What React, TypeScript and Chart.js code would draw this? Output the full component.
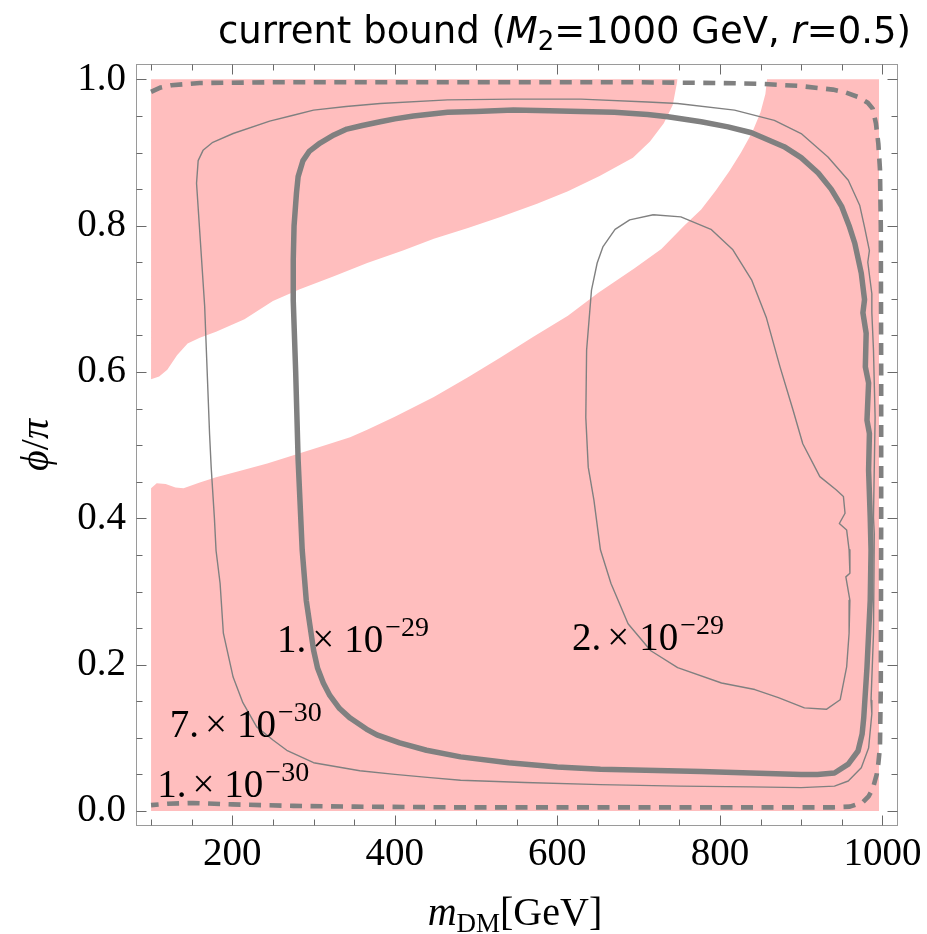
import React, { useEffect, useRef } from "react";
import { Chart, registerables } from "chart.js";

Chart.register(...registerables);

// ---------- axes ----------
const xTickValues = [100, 150, 200, 250, 300, 350, 400, 450, 500, 550, 600, 650, 700, 750, 800, 850, 900, 950, 1000];
const xTickLabels = ["", "", "200", "", "", "", "400", "", "", "", "600", "", "", "", "800", "", "", "", "1000"];
const yTickValues = [0, 0.05, 0.1, 0.15, 0.2, 0.25, 0.3, 0.35, 0.4, 0.45, 0.5, 0.55, 0.6, 0.65, 0.7, 0.75, 0.8, 0.85, 0.9, 0.95, 1.0];
const yTickLabels = ["0.0", "", "", "", "0.2", "", "", "", "0.4", "", "", "", "0.6", "", "", "", "0.8", "", "", "", "1.0"];
const xRange = [81.5, 1019];
const yRange = [-0.0205, 1.021];

// ---------- allowed region (pink) boundaries ----------
// lower edge of the upper-left pink region
const bandUpperX = [100, 110, 120, 132, 145, 160, 180, 215, 250, 283, 325, 366, 410, 448, 490, 530, 575, 613, 652, 693, 714, 731, 742, 748];
const bandUpperY = [0.590, 0.594, 0.603, 0.623, 0.639, 0.647, 0.655, 0.672, 0.697, 0.713, 0.731, 0.749, 0.766, 0.782, 0.797, 0.812, 0.830, 0.847, 0.868, 0.893, 0.915, 0.940, 0.965, 1.0];
// upper edge of the lower-right pink region
const bandLowerX = [100, 107, 118, 130, 140, 160, 180, 210, 243, 283, 320, 345, 366, 400, 448, 490, 530, 570, 613, 650, 695, 728, 756, 777, 795, 812, 826, 840, 850, 856, 858, 996];
const bandLowerY = [0.441, 0.448, 0.447, 0.442, 0.441, 0.449, 0.456, 0.465, 0.475, 0.489, 0.502, 0.511, 0.521, 0.539, 0.566, 0.593, 0.620, 0.648, 0.677, 0.708, 0.742, 0.768, 0.800, 0.822, 0.848, 0.875, 0.900, 0.928, 0.955, 0.980, 1.0, 1.0];

// ---------- contours ----------
// 1.e-30 (dashed)
const c1e30X = [100, 112, 125, 160, 250, 400, 550, 700, 800, 848, 898, 939, 955, 970, 982, 988, 992, 995, 997, 998, 998.5, 998.5, 998, 997, 995, 993, 988, 983, 976, 960, 939, 800, 650, 468, 350, 275, 200, 152, 120, 100];
const c1e30Y = [0.983, 0.989, 0.992, 0.995, 0.996, 0.996, 0.996, 0.996, 0.995, 0.994, 0.991, 0.986, 0.982, 0.976, 0.968, 0.960, 0.940, 0.912, 0.877, 0.800, 0.600, 0.400, 0.170, 0.088, 0.065, 0.050, 0.030, 0.020, 0.012, 0.006, 0.005, 0.005, 0.005, 0.005, 0.006, 0.007, 0.009, 0.011, 0.010, 0.008];
// 7.e-30 (thin)
const c7e30X = [156, 158, 164, 176, 201, 246, 275, 300, 340, 382, 465, 546, 629, 711, 748, 818, 867, 900, 933, 958, 972, 978, 984, 982, 987, 987, 989, 991, 989, 990, 989, 986, 987, 983, 974, 958, 941, 900, 838, 750, 653, 560, 481, 440, 400, 357, 300, 267, 250, 230, 213, 201, 189, 185, 180, 178, 174, 172, 166, 156];
const c7e30Y = [0.858, 0.889, 0.903, 0.914, 0.926, 0.943, 0.951, 0.958, 0.963, 0.967, 0.972, 0.973, 0.973, 0.969, 0.967, 0.958, 0.944, 0.926, 0.894, 0.862, 0.828, 0.798, 0.766, 0.750, 0.707, 0.681, 0.630, 0.538, 0.401, 0.379, 0.242, 0.151, 0.133, 0.086, 0.059, 0.041, 0.034, 0.032, 0.033, 0.034, 0.036, 0.039, 0.042, 0.046, 0.050, 0.055, 0.066, 0.083, 0.097, 0.115, 0.148, 0.183, 0.243, 0.311, 0.356, 0.400, 0.470, 0.516, 0.690, 0.858];
// 1.e-29 (thick)
const c1e29X = [275, 276, 279, 281, 287, 295, 308, 325, 341, 360, 382, 400, 423, 465, 500, 546, 590, 629, 670, 711, 736, 777, 810, 839, 879, 900, 921, 937, 950, 959, 966, 974, 978, 976, 980, 979, 983, 981, 984, 983, 985, 986, 985, 981, 977, 975, 970, 958, 941, 920, 900, 838, 777, 695, 653, 600, 540, 481, 439, 406, 378, 365, 345, 332, 320, 312, 305, 300, 291, 286, 281, 278, 275, 275];
const c1e29Y = [0.753, 0.800, 0.845, 0.867, 0.889, 0.902, 0.913, 0.924, 0.932, 0.937, 0.942, 0.946, 0.950, 0.955, 0.956, 0.958, 0.957, 0.956, 0.955, 0.952, 0.949, 0.942, 0.935, 0.927, 0.908, 0.893, 0.872, 0.850, 0.826, 0.800, 0.776, 0.735, 0.699, 0.681, 0.653, 0.607, 0.585, 0.534, 0.516, 0.466, 0.401, 0.356, 0.288, 0.196, 0.127, 0.105, 0.082, 0.064, 0.052, 0.050, 0.050, 0.052, 0.054, 0.056, 0.057, 0.060, 0.066, 0.074, 0.083, 0.093, 0.104, 0.112, 0.127, 0.140, 0.158, 0.175, 0.195, 0.220, 0.288, 0.357, 0.480, 0.600, 0.698, 0.753];
// 2.e-29 (thin, inner)
const c2e29X = [718, 752, 789, 816, 839, 857, 874, 890, 902, 923, 943, 952, 954, 947, 956, 959, 960, 955, 960, 959, 956, 948, 931, 904, 872, 843, 802, 748, 715, 687, 666, 653, 645, 638, 635, 636, 642, 649, 656, 671, 689, 718];
const c2e29Y = [0.815, 0.812, 0.795, 0.767, 0.726, 0.675, 0.607, 0.548, 0.502, 0.457, 0.439, 0.430, 0.407, 0.393, 0.384, 0.357, 0.325, 0.320, 0.288, 0.243, 0.197, 0.152, 0.139, 0.141, 0.155, 0.166, 0.175, 0.196, 0.219, 0.256, 0.311, 0.357, 0.425, 0.470, 0.538, 0.630, 0.712, 0.749, 0.771, 0.795, 0.808, 0.815];

// ---------- contour labels ----------
const labelMantissa = ["1.", "2.", "7.", "1."];
const labelExponent = ["\u221229", "\u221229", "\u221230", "\u221230"];
const labelX = [255, 618, 123, 107.5];
const labelY = [0.217, 0.220, 0.101, 0.019];

const PINK = "rgb(255,190,190)";
const LINE = "#808080";
const SERIF = "'Liberation Serif', 'Times New Roman', serif";
const SANS = "'DejaVu Sans', sans-serif";

const zip = (xs: number[], ys: number[]) => xs.map((x, i) => ({ x, y: ys[i] }));

type Part = { t: string; font: string; dy?: number; dx?: number };
function drawParts(ctx: CanvasRenderingContext2D, parts: Part[], x: number, y: number, align: "left" | "center" | "right") {
  const widths = parts.map((p) => {
    ctx.font = p.font;
    return ctx.measureText(p.t).width;
  });
  const total = parts.reduce((s, p, i) => s + widths[i] + (p.dx || 0), 0);
  let cx = align === "left" ? x : align === "center" ? x - total / 2 : x - total;
  ctx.textAlign = "left";
  ctx.textBaseline = "alphabetic";
  parts.forEach((p, i) => {
    cx += p.dx || 0;
    ctx.font = p.font;
    ctx.fillText(p.t, cx, y + (p.dy || 0));
    cx += widths[i];
  });
}

const decorPlugin = {
  id: "decor",
  afterDatasetsDraw(chart: any) {
    const { ctx, scales } = chart;
    ctx.save();
    ctx.fillStyle = "#000";
    for (let i = 0; i < labelMantissa.length; i++) {
      const px = scales.x.getPixelForValue(labelX[i]);
      const py = scales.y.getPixelForValue(labelY[i]);
      drawParts(
        ctx,
        [
          { t: labelMantissa[i], font: `39px ${SERIF}` },
          { t: "\u00d7", font: `39px ${SERIF}`, dx: 6 },
          { t: "10", font: `39px ${SERIF}`, dx: 10 },
          { t: labelExponent[i], font: `28px ${SERIF}`, dx: 2, dy: -16 },
        ],
        px,
        py,
        "left"
      );
    }
    ctx.restore();
  },
  afterDraw(chart: any) {
    const { ctx, chartArea: a, scales } = chart;
    ctx.save();
    // frame
    const L = Math.round(a.left) + 0.5, R = Math.round(a.right) - 0.5;
    const T = Math.round(a.top) + 0.5, B = Math.round(a.bottom) - 0.5;
    ctx.strokeStyle = "#9a9a9a";
    ctx.lineWidth = 1;
    ctx.strokeRect(L, T, R - L, B - T);
    // ticks (inside)
    ctx.strokeStyle = "#6a6a6a";
    ctx.beginPath();
    scales.x.ticks.forEach((t: any, i: number) => {
      const p = Math.round(scales.x.getPixelForValue(t.value)) + 0.5;
      const len = xTickLabels[i] ? 10 : 6;
      ctx.moveTo(p, B); ctx.lineTo(p, B - len);
      ctx.moveTo(p, T); ctx.lineTo(p, T + len);
    });
    scales.y.ticks.forEach((t: any, i: number) => {
      const p = Math.round(scales.y.getPixelForValue(t.value)) + 0.5;
      const len = yTickLabels[i] ? 10 : 6;
      ctx.moveTo(L, p); ctx.lineTo(L + len, p);
      ctx.moveTo(R, p); ctx.lineTo(R - len, p);
    });
    ctx.stroke();

    ctx.fillStyle = "#000";
    // title
    drawParts(
      ctx,
      [
        { t: "current bound (", font: `37px ${SANS}` },
        { t: "M", font: `italic 37px ${SANS}` },
        { t: "2", font: `26px ${SANS}`, dy: 7 },
        { t: "=1000 GeV, ", font: `37px ${SANS}` },
        { t: "r", font: `italic 37px ${SANS}` },
        { t: "=0.5)", font: `37px ${SANS}` },
      ],
      911,
      43,
      "right"
    );
    // x-axis title
    drawParts(
      ctx,
      [
        { t: "m", font: `italic 40px ${SERIF}` },
        { t: "DM", font: `27px ${SERIF}`, dy: 7 },
        { t: "[GeV]", font: `40px ${SERIF}` },
      ],
      (a.left + a.right) / 2 - 2,
      925,
      "center"
    );
    // y-axis title
    ctx.translate(48, (a.top + a.bottom) / 2);
    ctx.rotate(-Math.PI / 2);
    drawParts(
      ctx,
      [
        { t: "\u03d5", font: `italic 40px ${SERIF}` },
        { t: "/", font: `40px ${SERIF}` },
        { t: "\u03c0", font: `italic 40px ${SERIF}` },
      ],
      0,
      0,
      "center"
    );
    ctx.restore();
  },
};

export default function App() {
  const ref = useRef<HTMLCanvasElement | null>(null);
  useEffect(() => {
    if (!ref.current) return;
    const lineDs = (data: any[], width: number, dash: number[] = []) => ({
      type: "scatter" as const,
      data,
      showLine: true,
      borderColor: LINE,
      borderWidth: width,
      borderDash: dash,
      borderJoinStyle: "round" as const,
      pointRadius: 0,
      pointHoverRadius: 0,
      fill: false,
      tension: 0,
      order: 1,
    });
    const chart = new Chart(ref.current, {
      type: "scatter",
      data: {
        datasets: [
          {
            data: zip(bandUpperX, bandUpperY),
            showLine: true,
            borderWidth: 0,
            borderColor: "rgba(0,0,0,0)",
            backgroundColor: PINK,
            pointRadius: 0,
            fill: { value: 1 },
            order: 10,
          } as any,
          {
            data: zip(bandLowerX, bandLowerY),
            showLine: true,
            borderWidth: 0,
            borderColor: "rgba(0,0,0,0)",
            backgroundColor: PINK,
            pointRadius: 0,
            fill: "origin",
            order: 10,
          } as any,
          lineDs(zip(c7e30X, c7e30Y), 1.4),
          lineDs(zip(c2e29X, c2e29Y), 1.4),
          lineDs(zip(c1e29X, c1e29Y), 5.5),
          lineDs(zip(c1e30X, c1e30Y), 4.6, [12, 8.5]),
        ],
      },
      options: {
        animation: false,
        responsive: false,
        devicePixelRatio: 1,
        layout: { padding: { top: 64, right: 29, left: 0, bottom: 0 } },
        plugins: { legend: { display: false }, tooltip: { enabled: false }, title: { display: false } },
        events: [],
        scales: {
          x: {
            type: "linear",
            min: xRange[0],
            max: xRange[1],
            grid: { display: false, drawTicks: false },
            border: { display: false },
            afterBuildTicks: (axis: any) => {
              axis.ticks = xTickValues.map((v) => ({ value: v }));
            },
            afterFit: (axis: any) => {
              axis.height = 108;
            },
            ticks: {
              autoSkip: false,
              maxRotation: 0,
              padding: 5,
              color: "#000",
              font: { family: SERIF, size: 39 },
              callback: (_v: any, i: number) => xTickLabels[i],
            },
          },
          y: {
            type: "linear",
            min: yRange[0],
            max: yRange[1],
            grid: { display: false, drawTicks: false },
            border: { display: false },
            afterBuildTicks: (axis: any) => {
              axis.ticks = yTickValues.map((v) => ({ value: v }));
            },
            afterFit: (axis: any) => {
              axis.width = 136;
            },
            ticks: {
              autoSkip: false,
              padding: 10,
              color: "#000",
              font: { family: SERIF, size: 39 },
              callback: (_v: any, i: number) => yTickLabels[i],
            },
          },
        },
      },
      plugins: [decorPlugin],
    } as any);
    return () => chart.destroy();
  }, []);
  return (
    <div style={{ position: "absolute", left: 0, top: 0, width: 927, height: 934, background: "#fff" }}>
      <canvas ref={ref} width={927} height={934} style={{ display: "block", width: 927, height: 934 }} />
    </div>
  );
}
